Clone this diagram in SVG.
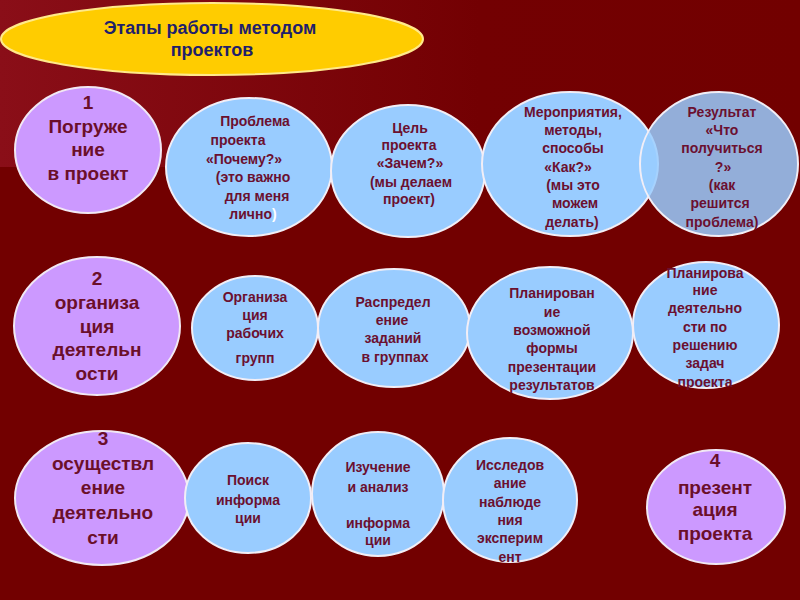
<svg xmlns="http://www.w3.org/2000/svg" width="800" height="600" viewBox="0 0 800 600">
<defs>
<linearGradient id="bgTop" x1="0" y1="0" x2="1" y2="0">
<stop offset="0" stop-color="#8a0e18"/>
<stop offset="0.6" stop-color="#730002"/>
<stop offset="1" stop-color="#720000"/>
</linearGradient>
<style>
.stage{fill:#cc99ff;stroke:#f2e8f4;stroke-width:2}
.step{fill:#99ccff;stroke:#f2eef6;stroke-width:2}
.stt{font-family:"Liberation Sans",Arial,sans-serif;font-weight:bold;font-size:19px;fill:#6b0f2a;text-anchor:middle}
.bt{font-family:"Liberation Sans",Arial,sans-serif;font-weight:bold;font-size:14px;fill:#6b1030;text-anchor:middle}
.title{font-family:"Liberation Sans",Arial,sans-serif;font-weight:bold;font-size:18px;fill:#1f1f6b;text-anchor:middle}
</style>
</defs>
<rect x="0" y="0" width="800" height="600" fill="#720000"/>
<rect x="0" y="0" width="800" height="167" fill="url(#bgTop)"/>

<g id="title">
<ellipse cx="212" cy="39" rx="211" ry="36" fill="#ffcc00" stroke="#ffe98a" stroke-width="2"/>
<text class="title" x="210" y="34">Этапы работы методом</text>
<text class="title" x="212" y="56">проектов</text>
</g>

<g id="connectors"/>

<g id="stage1">
<ellipse class="stage" cx="88" cy="150" rx="73" ry="63"/>
<text class="stt" x="88" y="109">1</text>
<text class="stt" x="88" y="133">Погруже</text>
<text class="stt" x="88" y="156">ние</text>
<text class="stt" x="88" y="180">в проект</text>
</g>
<g id="problem">
<ellipse class="step" cx="249" cy="167" rx="83" ry="69"/>
<text class="bt" x="255" y="126">Проблема</text>
<text class="bt" x="238" y="145">проекта</text>
<text class="bt" x="244" y="164">«Почему?»</text>
<text class="bt" x="253" y="182">(это важно</text>
<text class="bt" x="257" y="201">для меня</text>
<text class="bt" x="253" y="219">лично<tspan fill="#ffffff">)</tspan></text>
</g>
<g id="goal">
<ellipse class="step" cx="408" cy="171" rx="77" ry="66"/>
<text class="bt" x="410" y="133">Цель</text>
<text class="bt" x="409" y="150">проекта</text>
<text class="bt" x="410" y="168">«Зачем?»</text>
<text class="bt" x="411" y="187">(мы делаем</text>
<text class="bt" x="409" y="204">проект)</text>
</g>
<g id="methods">
<ellipse class="step" cx="570" cy="164" rx="88" ry="72"/>
<text class="bt" x="573" y="117">Мероприятия,</text>
<text class="bt" x="573" y="135">методы,</text>
<text class="bt" x="573" y="153">способы</text>
<text class="bt" x="568" y="172">«Как?»</text>
<text class="bt" x="573" y="190">(мы это</text>
<text class="bt" x="575" y="208">можем</text>
<text class="bt" x="572" y="227">делать)</text>
</g>
<g id="result">
<ellipse cx="719" cy="164" rx="79" ry="72" fill="#99ccff" fill-opacity="0.85" stroke="#f2eef6" stroke-width="2"/>
<text class="bt" x="722" y="117">Результат</text>
<text class="bt" x="722" y="135">«Что</text>
<text class="bt" x="722" y="153">получиться</text>
<text class="bt" x="723" y="172">?»</text>
<text class="bt" x="722" y="190">(как</text>
<text class="bt" x="720" y="208">решится</text>
<text class="bt" x="722" y="227">проблема)</text>
</g>

<g id="stage2">
<ellipse class="stage" cx="97" cy="326" rx="83" ry="69"/>
<text class="stt" x="97" y="285">2</text>
<text class="stt" x="97" y="309">организа</text>
<text class="stt" x="97" y="333">ция</text>
<text class="stt" x="97" y="356">деятельн</text>
<text class="stt" x="97" y="380">ости</text>
</g>
<g id="groups">
<ellipse class="step" cx="255" cy="328" rx="63" ry="52"/>
<text class="bt" x="255" y="302">Организа</text>
<text class="bt" x="255" y="320">ция</text>
<text class="bt" x="255" y="338">рабочих</text>
<text class="bt" x="255" y="363">групп</text>
</g>
<g id="tasks">
<ellipse class="step" cx="394" cy="328" rx="76" ry="59"/>
<text class="bt" x="393" y="307">Распредел</text>
<text class="bt" x="392" y="325">ение</text>
<text class="bt" x="393" y="343">заданий</text>
<text class="bt" x="395" y="362">в группах</text>
</g>
<g id="presplan">
<ellipse class="step" cx="550" cy="333" rx="83" ry="66"/>
<text class="bt" x="552" y="298">Планирован</text>
<text class="bt" x="552" y="317">ие</text>
<text class="bt" x="552" y="335">возможной</text>
<text class="bt" x="552" y="353">формы</text>
<text class="bt" x="552" y="372">презентации</text>
<text class="bt" x="552" y="390">результатов</text>
</g>
<g id="actplan">
<ellipse class="step" cx="706" cy="325" rx="73" ry="63"/>
<text class="bt" x="705" y="278">Планирова</text>
<text class="bt" x="705" y="295">ние</text>
<text class="bt" x="705" y="313">деятельно</text>
<text class="bt" x="705" y="332">сти по</text>
<text class="bt" x="705" y="350">решению</text>
<text class="bt" x="705" y="368">задач</text>
<text class="bt" x="705" y="387">проекта</text>
</g>

<g id="stage3">
<ellipse class="stage" cx="102" cy="498" rx="87" ry="67"/>
<text class="stt" x="103" y="445">3</text>
<text class="stt" x="103" y="470">осуществл</text>
<text class="stt" x="103" y="494">ение</text>
<text class="stt" x="103" y="519">деятельно</text>
<text class="stt" x="103" y="544">сти</text>
</g>
<g id="search">
<ellipse class="step" cx="248" cy="498" rx="63" ry="55"/>
<text class="bt" x="248" y="485">Поиск</text>
<text class="bt" x="248" y="505">информа</text>
<text class="bt" x="248" y="523">ции</text>
</g>
<g id="study">
<ellipse class="step" cx="378" cy="494" rx="66" ry="62"/>
<text class="bt" x="378" y="472">Изучение</text>
<text class="bt" x="378" y="492">и анализ</text>
<text class="bt" x="378" y="528">информа</text>
<text class="bt" x="378" y="545">ции</text>
</g>
<g id="research">
<ellipse class="step" cx="510" cy="500" rx="67" ry="62"/>
<text class="bt" x="510" y="470">Исследов</text>
<text class="bt" x="510" y="488">ание</text>
<text class="bt" x="510" y="507">наблюде</text>
<text class="bt" x="510" y="525">ния</text>
<text class="bt" x="510" y="543">эксперим</text>
<text class="bt" x="510" y="562">ент</text>
</g>
<g id="stage4">
<ellipse class="stage" cx="716" cy="507" rx="69" ry="57"/>
<text class="stt" x="715" y="467">4</text>
<text class="stt" x="715" y="494">презент</text>
<text class="stt" x="715" y="516">ация</text>
<text class="stt" x="715" y="540">проекта</text>
</g>
</svg>
